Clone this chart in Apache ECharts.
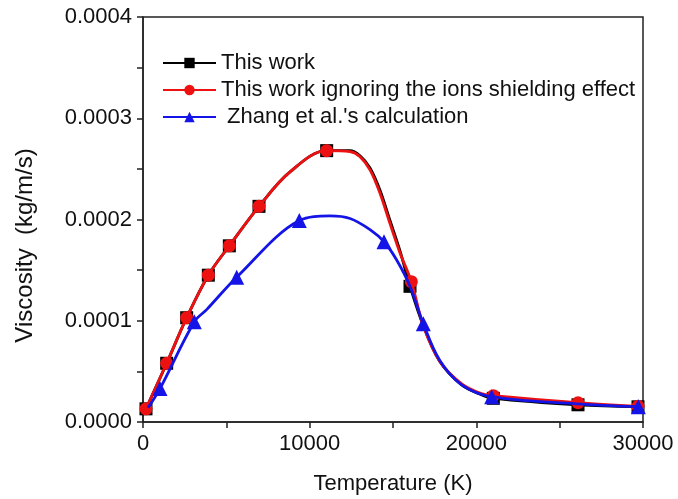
<!DOCTYPE html>
<html>
<head>
<meta charset="utf-8">
<script src="https://cdn.jsdelivr.net/npm/echarts@6/dist/echarts.min.js"></script>
<style>
  html, body { margin: 0; padding: 0; background: #fff; }
  #chart { width: 678px; height: 499px; }
</style>
</head>
<body>
<div id="chart"></div>
<script>
// Curve points: [temperature K, viscosity kg/m/s, hasMarker]
const thisWork = [
  [180, 1.3e-5, 1], [1420, 5.8e-5, 1], [2620, 1.03e-4, 1], [3920, 1.45e-4, 1],
  [5180, 1.74e-4, 1], [6960, 2.13e-4, 1], [8820, 2.47e-4, 0], [11020, 2.68e-4, 1],
  [12420, 2.68e-4, 0], [13020, 2.63e-4, 0], [13620, 2.51e-4, 0], [14220, 2.29e-4, 0],
  [14820, 1.99e-4, 0], [15420, 1.69e-4, 0], [16020, 1.34e-4, 1], [16820, 9.5e-5, 0],
  [17800, 6.0e-5, 0], [19100, 3.7e-5, 0], [20300, 2.7e-5, 0], [21020, 2.34e-5, 1],
  [26100, 1.7e-5, 1], [29700, 1.5e-5, 1]
];
const ignoringShielding = [
  [180, 1.3e-5, 1], [1420, 5.8e-5, 1], [2620, 1.03e-4, 1], [3920, 1.45e-4, 1],
  [5180, 1.74e-4, 1], [6960, 2.13e-4, 1], [8820, 2.47e-4, 0], [11020, 2.68e-4, 1],
  [12420, 2.67e-4, 0], [13020, 2.62e-4, 0], [13620, 2.49e-4, 0], [14220, 2.26e-4, 0],
  [14820, 1.96e-4, 0], [15420, 1.67e-4, 0], [16100, 1.386e-4, 1], [16820, 9.5e-5, 0],
  [17800, 6.0e-5, 0], [19100, 3.8e-5, 0], [20300, 2.8e-5, 0], [21020, 2.6e-5, 1],
  [26100, 1.9e-5, 1], [29700, 1.55e-5, 1]
];
const zhang = [
  [300, 1.4e-5, 0], [1020, 3.3e-5, 1], [3080, 9.9e-5, 1], [3820, 1.11e-4, 0],
  [5620, 1.43e-4, 1], [9380, 1.99e-4, 1], [11220, 2.035e-4, 0], [12420, 2.01e-4, 0],
  [13620, 1.90e-4, 0], [14460, 1.78e-4, 1], [15220, 1.60e-4, 0], [16020, 1.34e-4, 0],
  [16820, 9.7e-5, 1], [17800, 6.1e-5, 0], [19100, 3.7e-5, 0], [20920, 2.5e-5, 1],
  [26000, 1.8e-5, 0], [29720, 1.51e-5, 1]
];
const seriesNames = ['This work', 'This work ignoring the ions shielding effect', " Zhang et al.'s calculation"];
const xTicks = [0, 10000, 20000, 30000];
const yTicks = [0, 0.0001, 0.0002, 0.0003, 0.0004];

function toData(arr) {
  return arr.map(p => p[2] ? { value: [p[0], p[1]] } : { value: [p[0], p[1]], symbol: 'none' });
}

const font = '"Liberation Sans", Arial, sans-serif';
const axisCommon = {
  axisLine: { show: true, lineStyle: { color: '#222', width: 1.5 } },
  axisTick: { show: true, inside: false, length: 6, lineStyle: { color: '#222', width: 1.5 } },
  minorTick: { show: true, splitNumber: 2, length: 6, lineStyle: { color: '#222', width: 1.5 } },
  splitLine: { show: false },
  axisLabel: { color: '#111', fontSize: 22, fontFamily: font, margin: 11 },
  nameTextStyle: { color: '#111', fontSize: 22, fontFamily: font }
};

const chart = echarts.init(document.getElementById('chart'), null, { renderer: 'canvas' });
chart.setOption({
  animation: false,
  backgroundColor: '#fff',
  grid: {
    left: 143, right: 35, top: 17, bottom: 77, outerBoundsMode: 'none',
    show: true, borderColor: '#222', borderWidth: 1.5
  },
  legend: {
    orient: 'vertical', left: 157, top: 47,
    itemWidth: 53, itemHeight: 13, itemGap: 5,
    textStyle: { color: '#111', fontSize: 22, fontFamily: font },
    data: seriesNames
  },
  xAxis: Object.assign({}, axisCommon, {
    type: 'value', min: xTicks[0], max: xTicks[xTicks.length - 1], interval: 10000,
    name: 'Temperature (K)', nameLocation: 'middle', nameGap: 51,
    axisLabel: Object.assign({}, axisCommon.axisLabel, { formatter: v => String(v) })
  }),
  yAxis: Object.assign({}, axisCommon, {
    type: 'value', min: yTicks[0], max: yTicks[yTicks.length - 1], interval: 0.0001,
    name: 'Viscosity  (kg/m/s)', nameLocation: 'middle', nameGap: 106,
    nameTextStyle: { color: '#111', fontSize: 24, fontFamily: font, padding: [0, 52, 0, 0] },
    axisLabel: Object.assign({}, axisCommon.axisLabel, { formatter: v => v.toFixed(4) })
  }),
  series: [
    {
      name: seriesNames[0], type: 'line', data: toData(thisWork), smooth: 0.35,
      symbol: 'rect', symbolSize: 13, z: 2,
      lineStyle: { color: '#000', width: 2.8 }, itemStyle: { color: '#000' }
    },
    {
      name: seriesNames[1], type: 'line', data: toData(ignoringShielding), smooth: 0.35,
      symbol: 'circle', symbolSize: 13, z: 3,
      lineStyle: { color: '#ee1111', width: 2.8 }, itemStyle: { color: '#ee1111' }
    },
    {
      name: seriesNames[2], type: 'line', data: toData(zhang), smooth: 0.35,
      symbol: 'triangle', symbolSize: 15, z: 4,
      lineStyle: { color: '#1414e6', width: 2.8 }, itemStyle: { color: '#1414e6' }
    }
  ]
});
</script>
</body>
</html>
